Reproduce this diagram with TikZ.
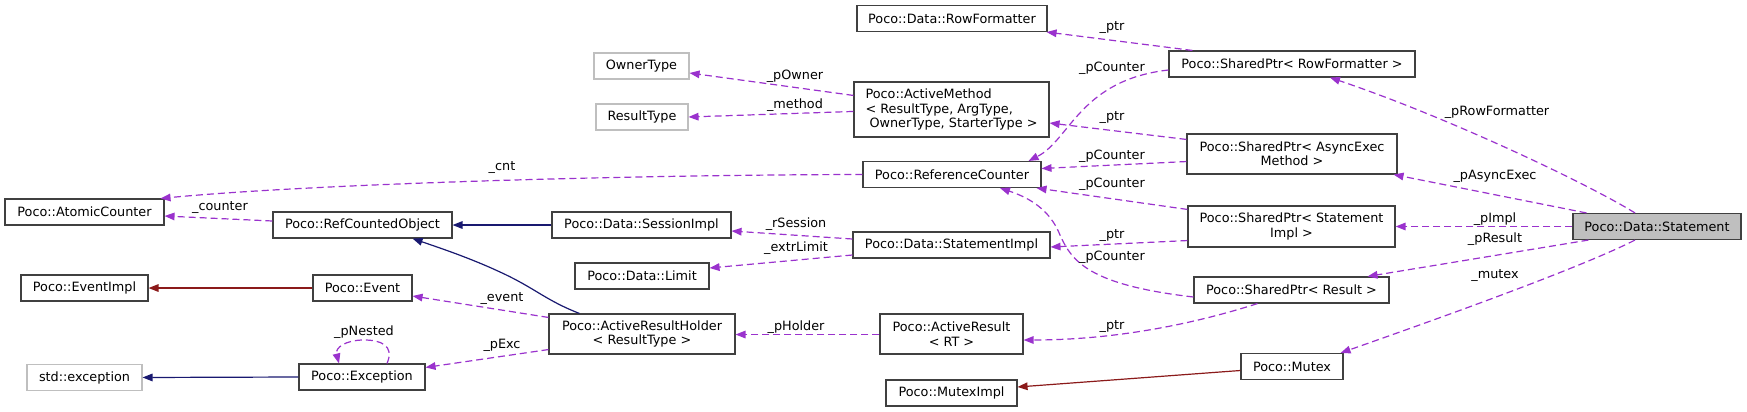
\documentclass[tikz,border=0pt]{standalone}
\usepackage{fontspec}
\setmainfont{DejaVu Sans}
\usetikzlibrary{arrows.meta,calc}
\definecolor{mem}{HTML}{9A32CD}
\definecolor{inh}{HTML}{191970}
\definecolor{priv}{HTML}{8B1A1A}
\definecolor{bord}{HTML}{404040}
\definecolor{ext}{HTML}{BFBFBF}
\newcommand\dgfont{\fontsize{6.4}{7.2}\selectfont}
\begin{document}
\begin{tikzpicture}[x=0.5pt,y=-0.5pt,
 box/.style={draw=bord,line width=0.55pt,fill=white,inner sep=0pt,font=\dgfont,align=center,minimum height=13pt},
 extbox/.style={box,draw=ext},
 memb/.style={draw=mem,line width=0.6pt,dash pattern=on 3.5pt off 2pt,-{Triangle[length=5pt,width=3.8pt]}},
 inher/.style={draw=inh,line width=0.6pt,-{Triangle[length=5pt,width=3.8pt]}},
 privs/.style={draw=priv,line width=0.6pt,-{Triangle[length=5pt,width=3.8pt]}},
 lbl/.style={font=\dgfont,inner sep=0pt}]
\useasboundingbox (0,0) rectangle (1747,412);
% nodes
\node[box,minimum width=95pt] (rowfmt) at (952,18.5) {Poco::Data::RowFormatter};
\node[extbox,minimum width=47.5pt] (owner) at (641.5,66) {OwnerType};
\node[extbox,minimum width=46pt] (rtype) at (642,117) {ResultType};
\node[box,minimum width=97.5pt,minimum height=27.5pt,align=left] (amethod) at (951.5,109.5) {Poco::ActiveMethod\\< ResultType, ArgType,\\\hspace{2pt}OwnerType, StarterType >};
\node[box,minimum width=89pt] (refc) at (952,174.5) {Poco::ReferenceCounter};
\node[box,minimum width=123pt] (sprow) at (1292,64) {Poco::SharedPtr< RowFormatter >};
\node[box,minimum width=105pt,minimum height=20pt] (spasync) at (1292,154) {Poco::SharedPtr< AsyncExec\\Method >};
\node[box,minimum width=103.5pt,minimum height=20.5pt] (spimpl) at (1291.5,226.5) {Poco::SharedPtr< Statement\\Impl >};
\node[box,fill=ext,minimum width=84pt] (stmt) at (1657,226.5) {Poco::Data::Statement};
\node[box,minimum width=97.5pt] (spres) at (1291.5,290) {Poco::SharedPtr< Result >};
\node[box,minimum width=51pt] (mutex) at (1292,366.5) {Poco::Mutex};
\node[box,minimum width=79.5pt] (atomic) at (84.5,212) {Poco::AtomicCounter};
\node[box,minimum width=89.5pt] (rco) at (362.5,225) {Poco::RefCountedObject};
\node[box,minimum width=89.5pt] (sess) at (641.5,225) {Poco::Data::SessionImpl};
\node[box,minimum width=98.5pt] (simpl) at (951.5,245) {Poco::Data::StatementImpl};
\node[box,minimum width=67pt] (limit) at (642,276) {Poco::Data::Limit};
\node[box,minimum width=63.5pt] (evimpl) at (84.5,288) {Poco::EventImpl};
\node[box,minimum width=49.5pt] (event) at (362.5,288) {Poco::Event};
\node[box,minimum width=93pt,minimum height=20pt] (arh) at (642,334) {Poco::ActiveResultHolder\\< ResultType >};
\node[box,minimum width=71.5pt,minimum height=20pt] (ares) at (951.5,334) {Poco::ActiveResult\\< RT >};
\node[box,minimum width=65.5pt] (mimpl) at (951.5,393) {Poco::MutexImpl};
\node[extbox,minimum width=57.5pt] (stdexc) at (84.5,377.5) {std::exception};
\node[box,minimum width=63pt] (exc) at (362,377) {Poco::Exception};
% edges
\draw[memb] ($(stmt.north)+(-22,0)$) .. controls (1590,185) and (1450,118) .. ($(sprow.south)+(38,0)$);
\draw[memb] ($(stmt.north west)+(14,0)$) -- ($(spasync.south east)+(-4,0)$);
\draw[memb] (stmt.west) -- (spimpl.east);
\draw[memb] ($(stmt.south west)+(16,0)$) -- ($(spres.north east)+(-22,0)$);
\draw[memb] ($(stmt.south)+(-22,0)$) .. controls (1580,268) and (1440,318) .. ($(mutex.north east)+(-3,0)$);
\draw[memb] ($(sprow.north west)+(24,0)$) -- ($(rowfmt.south east)+(-1,0)$);
\draw[memb] ($(sprow.west)+(0,6)$) .. controls (1080,80) and (1070,140) .. ($(refc.north east)+(-13,0)$);
\draw[memb] ($(spasync.north west)+(0,6)$) -- ($(amethod.east)+(0,13.5)$);
\draw[memb] ($(spasync.south west)+(0,-13)$) -- ($(refc.east)+(0,-6)$);
\draw[memb] ($(spimpl.north west)+(0,4)$) -- ($(refc.south east)+(-5,0)$);
\draw[memb] ($(spimpl.south west)+(0,-7)$) -- ($(simpl.east)+(0,2)$);
\draw[memb] ($(spres.west)+(0,7)$) .. controls (1090,285) and (1072,262) .. (1060,235) .. controls (1050,210) and (1030,198) .. ($(refc.south)+(48,0)$);
\draw[memb] ($(spres.south)+(-34,0)$) .. controls (1200,322) and (1120,340) .. ($(ares.east)+(0,6)$);
\draw[privs] ($(mutex.west)+(0,4)$) -- ($(mimpl.east)+(0,-6)$);
\draw[memb] ($(amethod.north west)+(0,14)$) -- ($(owner.east)+(0,7)$);
\draw[memb] ($(amethod.north west)+(0,30)$) -- (rtype.east);
\draw[memb] (refc.west) .. controls (600,175) and (300,185) .. ($(atomic.north east)+(-4,0)$);
\draw[memb] ($(rco.west)+(0,-4)$) -- ($(atomic.east)+(0,4)$);
\draw[inher] (sess.west) -- (rco.east);
\draw[memb] ($(simpl.west)+(0,-6)$) -- ($(sess.east)+(0,6)$);
\draw[memb] ($(simpl.west)+(0,10)$) -- ($(limit.east)+(0,-8)$);
\draw[inher] ($(arh.north west)+(31,0)$) .. controls (545,300) and (535,288) .. (500,272) .. controls (470,258) and (440,248) .. ($(rco.south)+(50,0)$);
\draw[memb] ($(arh.north west)+(0,4)$) -- ($(event.east)+(0,8)$);
\draw[memb] ($(arh.south west)+(0,-5)$) -- ($(exc.north east)+(0,4)$);
\draw[memb] ($(exc.north)+(25,0)$) .. controls (395,345) and (380,340) .. (364,340) .. controls (345,340) and (335,348) .. ($(exc.north)+(-23,0)$);
\draw[inher] (exc.west) -- (stdexc.east);
\draw[privs] (event.west) -- (evimpl.east);
\draw[memb] ($(ares.west)+(0,0.5)$) -- ($(arh.east)+(0,0.5)$);
% labels
\node[lbl] (l1) at (1497,112) {\_pRowFormatter};
\node[lbl] (l2) at (1495,176) {\_pAsyncExec};
\node[lbl] (l3) at (1495,219) {\_pImpl};
\node[lbl] (l4) at (1495,239) {\_pResult};
\node[lbl] (l5) at (1495,276) {\_mutex};
\node[lbl] (l6) at (1112,28) {\_ptr};
\node[lbl] (l7) at (1112,68) {\_pCounter};
\node[lbl] (l8) at (1112,118) {\_ptr};
\node[lbl] (l9) at (1112,156) {\_pCounter};
\node[lbl] (l10) at (1112,184) {\_pCounter};
\node[lbl] (l11) at (1112,236) {\_ptr};
\node[lbl] (l12) at (1112,257) {\_pCounter};
\node[lbl] (l13) at (1112,327) {\_ptr};
\node[lbl] (l15) at (795,76) {\_pOwner};
\node[lbl] (l16) at (795,105) {\_method};
\node[lbl] (l17) at (502,168) {\_cnt};
\node[lbl] (l18) at (220,208) {\_counter};
\node[lbl] (l20) at (796,224) {\_rSession};
\node[lbl] (l21) at (796,248) {\_extrLimit};
\node[lbl] (l23) at (502,299) {\_event};
\node[lbl] (l24) at (502,345) {\_pExc};
\node[lbl] (l25) at (364,332) {\_pNested};
\node[lbl] (l28) at (796,327) {\_pHolder};
\end{tikzpicture}
\end{document}
